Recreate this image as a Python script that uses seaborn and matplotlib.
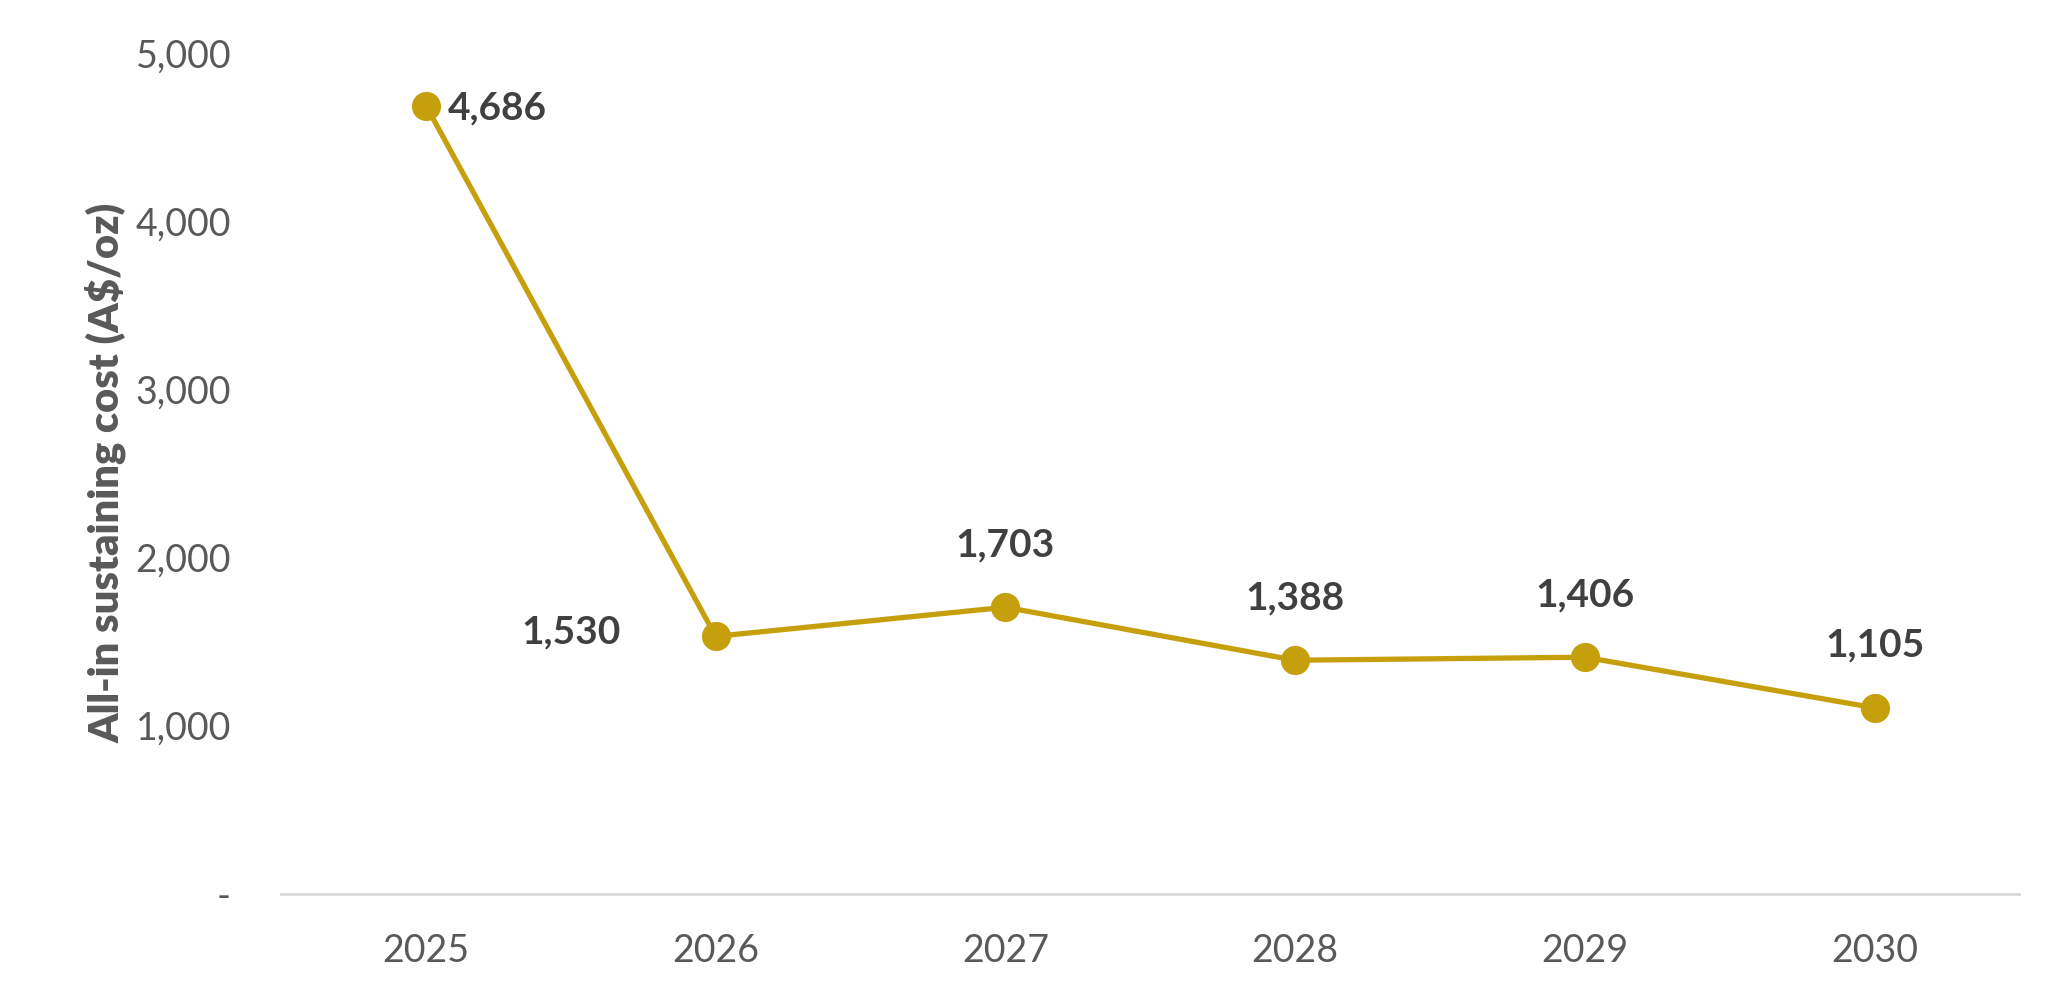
import matplotlib
matplotlib.use("Agg")
import matplotlib.pyplot as plt
import seaborn as sns

# chart data
years = ["2025", "2026", "2027", "2028", "2029", "2030"]
aisc = [4686, 1530, 1703, 1388, 1406, 1105]
label_pos = ["right", "left", "above", "above", "above", "above"]
yticks = [0, 1000, 2000, 3000, 4000, 5000]
ytick_labels = ["-", "1,000", "2,000", "3,000", "4,000", "5,000"]

gold = "#C5A00C"
grey_text = "#595959"
dark_text = "#404040"

sns.set_theme(style="white")
plt.rcParams["font.family"] = ["Lato", "DejaVu Sans"]

fig = plt.figure(figsize=(20.46, 9.9), dpi=100)
ax = fig.add_axes([0.1374, 0.0973, 0.8496, 0.8494])

sns.lineplot(x=years, y=aisc, ax=ax, color=gold, linewidth=3.8,
             marker="o", markersize=21, markeredgewidth=0, clip_on=False)

# data labels
for i, (v, pos) in enumerate(zip(aisc, label_pos)):
    txt = f"{v:,}"
    if pos == "right":
        ax.annotate(txt, (i, v), xytext=(16, -2), textcoords="offset points",
                    ha="left", va="center", fontsize=28, fontweight="bold", color=dark_text)
    elif pos == "left":
        ax.annotate(txt, (i, v), xytext=(-68, 3), textcoords="offset points",
                    ha="right", va="center", fontsize=28, fontweight="bold", color=dark_text)
    else:
        ax.annotate(txt, (i, v), xytext=(0, 45), textcoords="offset points",
                    ha="center", va="center", fontsize=28, fontweight="bold", color=dark_text)

ax.set_xlim(-0.5, 5.5)
ax.set_ylim(0, 5000)
ax.set_yticks(yticks)
ax.set_yticklabels(ytick_labels)
ax.tick_params(axis="y", length=0, pad=36, labelsize=27, labelcolor=grey_text)
ax.tick_params(axis="x", length=0, pad=28, labelsize=27, labelcolor=grey_text)

ax.set_ylabel("All-in sustaining cost (A$/oz)", fontsize=30, fontweight="heavy", color=grey_text)
ax.yaxis.set_label_coords(-0.089, 0.50)
ax.set_xlabel("")

for s in ["top", "right", "left"]:
    ax.spines[s].set_visible(False)
ax.spines["bottom"].set_color("#D9D9D9")
ax.spines["bottom"].set_linewidth(2)
ax.grid(False)

fig.savefig("out.png", dpi=100, facecolor="white")
